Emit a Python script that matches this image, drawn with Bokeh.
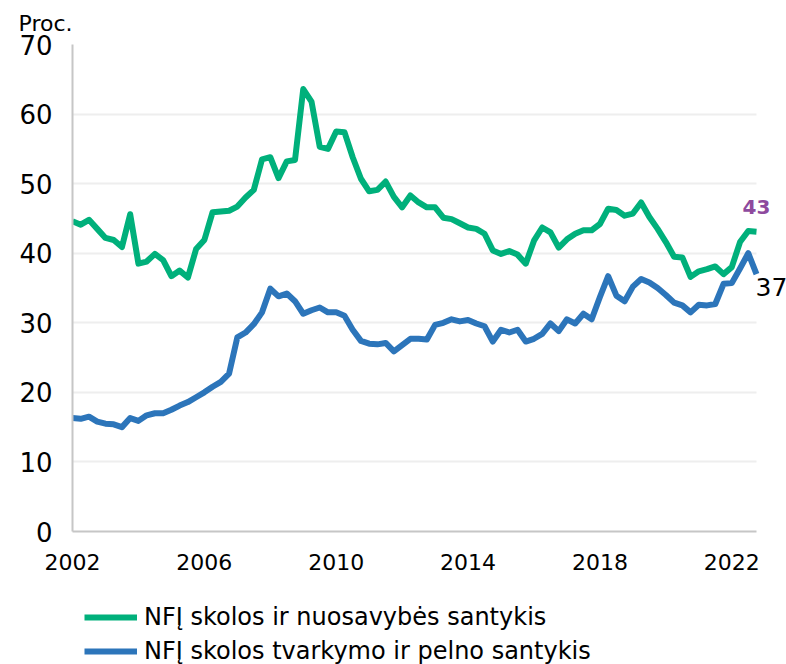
from bokeh.plotting import figure
from bokeh.layouts import column
from bokeh.models import Range1d, Legend, LegendItem, Label, FixedTicker, ColumnDataSource
from bokeh.embed import file_html
from bokeh.resources import INLINE

# Quarterly periods 2002Q1 .. 2022Q4
years = list(range(2002, 2023))
quarters = [1, 2, 3, 4]
tick_years = [2002, 2006, 2010, 2014, 2018, 2022]

# NFĮ skolos ir nuosavybės santykis (proc.)
debt_equity = [
    44.6, 44.1, 44.8, 43.5, 42.2, 41.9, 40.9, 45.6, 38.5, 38.8, 39.9, 39.0,
    36.7, 37.5, 36.5, 40.6, 41.9, 45.9, 46.0, 46.1, 46.7, 48.0, 49.1, 53.5,
    53.8, 50.8, 53.2, 53.4, 63.6, 61.8, 55.3, 55.0, 57.5, 57.4, 53.8, 50.7,
    48.9, 49.1, 50.3, 48.1, 46.6, 48.3, 47.3, 46.6, 46.6, 45.1, 44.9, 44.3,
    43.7, 43.5, 42.8, 40.4, 39.9, 40.3, 39.8, 38.5, 41.8, 43.7, 43.0, 40.8,
    42.0, 42.8, 43.3, 43.3, 44.2, 46.4, 46.2, 45.4, 45.7, 47.3, 45.2, 43.5,
    41.6, 39.5, 39.4, 36.6, 37.4, 37.7, 38.1, 37.0, 38.0, 41.6, 43.2, 43.1,
]
# NFĮ skolos tvarkymo ir pelno santykis (proc.)
debt_service_profit = [
    16.3, 16.2, 16.5, 15.8, 15.5, 15.4, 15.0, 16.3, 15.9, 16.7, 17.0, 17.0,
    17.5, 18.1, 18.6, 19.3, 20.0, 20.8, 21.5, 22.7, 27.9, 28.6, 29.8, 31.5,
    34.9, 33.8, 34.2, 33.1, 31.3, 31.8, 32.2, 31.5, 31.5, 31.0, 29.0, 27.4,
    27.0, 26.9, 27.1, 25.9, 26.8, 27.7, 27.7, 27.6, 29.7, 30.0, 30.5, 30.2,
    30.4, 29.9, 29.5, 27.3, 29.0, 28.6, 29.0, 27.3, 27.7, 28.4, 29.9, 28.8,
    30.5, 29.9, 31.3, 30.5, 33.7, 36.7, 33.9, 33.1, 35.2, 36.3, 35.8, 35.0,
    34.0, 32.9, 32.5, 31.5, 32.6, 32.5, 32.7, 35.6, 35.7, 37.8, 40.0, 37.0,
]
series_names = ["NFĮ skolos ir nuosavybės santykis",
                "NFĮ skolos tvarkymo ir pelno santykis"]

GREEN = "#00b07b"
BLUE = "#2c75ba"
FONT = "DejaVu Sans"

t = [y + (q - 1) / 4 for y in years for q in quarters]
src = ColumnDataSource(dict(t=t, de=debt_equity, ds=debt_service_profit))

# frame: x 72..786 px, data ends at 756 px -> extra room on the right for labels
span = t[-1] - t[0]
x_end = t[0] + span * 714 / 684

p = figure(width=786, height=594, output_backend="svg", toolbar_location=None,
           x_range=Range1d(t[0], x_end), y_range=Range1d(0, 70),
           min_border_left=72, min_border_right=0, min_border_top=44,
           min_border_bottom=63)
p.outline_line_color = None
p.background_fill_color = "white"
p.border_fill_color = "white"

p.title.text = "Proc."
p.title.align = "left"
p.title.offset = -54
p.title.standoff = 17
p.title.text_font = FONT
p.title.text_font_size = "22px"
p.title.text_font_style = "normal"
p.title.text_color = "#000000"

p.xgrid.visible = False
p.ygrid.grid_line_color = "#eeeeee"
p.ygrid.grid_line_width = 2
if "cross_bounds" in p.ygrid[0].properties():
    p.ygrid[0].cross_bounds = (t[0], t[-1])

p.yaxis.ticker = FixedTicker(ticks=list(range(0, 71, 10)))
p.xaxis.ticker = FixedTicker(ticks=tick_years)
p.xaxis.bounds = (t[0], t[-1])
for ax in (p.xaxis, p.yaxis):
    ax.axis_line_color = "#c6c6c6"
    ax.axis_line_width = 2
    ax.major_tick_line_color = None
    ax.minor_tick_line_color = None
    ax.major_tick_out = 0
    ax.major_tick_in = 0
    ax.major_label_text_font = FONT
    ax.major_label_text_color = "#000000"
p.yaxis.major_label_text_font_size = "26px"
p.xaxis.major_label_text_font_size = "22px"
p.yaxis.major_label_standoff = 20
p.xaxis.major_label_standoff = 22

r1 = p.line("t", "de", source=src, line_color=GREEN, line_width=6, line_join="round")
r2 = p.line("t", "ds", source=src, line_color=BLUE, line_width=6, line_join="round")

# Last-value labels
p.add_layout(Label(x=t[-1], y=debt_equity[-1] + 3.6, text=f"{debt_equity[-1]:.0f}",
                   text_align="center", text_baseline="middle",
                   text_font=FONT, text_font_size="20px", text_font_style="bold",
                   text_color="#8e4a9e"))
p.add_layout(Label(x=t[-1], y=debt_service_profit[-1] - 1.8,
                   text=f"{debt_service_profit[-1]:.0f}",
                   text_align="left", text_baseline="middle", x_offset=-1,
                   text_font=FONT, text_font_size="25px", text_color="#000000"))

# Legend strip below the chart
lf = figure(width=786, height=70, output_backend="svg", toolbar_location=None,
            x_range=Range1d(0, 1), y_range=Range1d(0, 1),
            x_axis_location=None, y_axis_location=None, min_border=0)
lf.grid.visible = False
lf.outline_line_color = None
lf.background_fill_color = "white"
lf.border_fill_color = "white"
l1 = lf.line("t", "de", source=src, line_color=GREEN, line_width=6)
l2 = lf.line("t", "ds", source=src, line_color=BLUE, line_width=6)
legend = Legend(items=[LegendItem(label=series_names[0], renderers=[l1]),
                       LegendItem(label=series_names[1], renderers=[l2])],
                location=(12, -1), orientation="vertical",
                label_text_font=FONT, label_text_font_size="24px",
                label_text_color="#000000",
                glyph_width=53, glyph_height=26, label_height=26,
                label_standoff=7, spacing=6, padding=0, margin=0,
                border_line_color=None, background_fill_alpha=0)
lf.add_layout(legend, "center")

layout = column(p, lf, spacing=0)
open("out.html", "w").write(file_html(layout, INLINE))
